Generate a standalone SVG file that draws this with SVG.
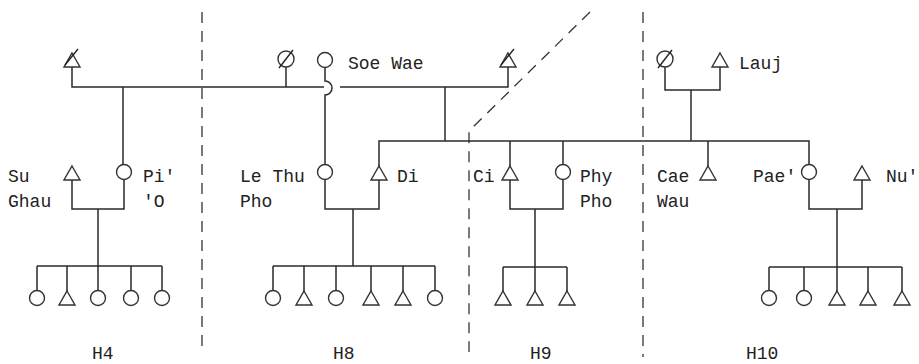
<svg xmlns="http://www.w3.org/2000/svg" xmlns:xlink="http://www.w3.org/1999/xlink" width="919" height="364" viewBox="0 0 919 364">
<style>
.ln{fill:none;stroke:#2a2a2a;stroke-width:1.5}
.dash{fill:none;stroke:#333;stroke-width:1.3;stroke-dasharray:11 8}
.sh{fill:#fff;stroke:#333;stroke-width:1.4}
.sl{fill:none;stroke:#222;stroke-width:1.4}
text{font-family:"Liberation Mono","DejaVu Sans Mono",monospace;font-size:18px;fill:#222}
</style>
<defs>
<path id="tri" class="sh" d="M0,-7 L8,7 L-8,7 Z"/>
<circle id="cir" class="sh" r="7.5"/>
<g id="dtri"><path class="sh" d="M0,-7 L8,7 L-8,7 Z"/><path class="sl" d="M-7,5 L6,-11"/></g>
<g id="dcir"><circle class="sh" r="8"/><path class="sl" d="M-7,9 L7,-9"/></g>
</defs>
<rect width="919" height="364" fill="#fff"/>
<g id="dividers">
<path class="dash" d="M202,12 V353"/>
<path class="dash" d="M590,12 L469,131 V352"/>
<path class="dash" d="M643,12 V357"/>
</g>
<g id="connectors">
<path class="ln" d="M72,67 V87 H324"/>
<path class="ln" d="M286,67 V87"/>
<path class="ln" d="M340,87 H508 V67"/>
<path class="ln" d="M325,67.5 V81 A7,7 0 0 1 325,95 V164.5"/>
<path class="ln" d="M123,87 V164.5"/>
<path class="ln" d="M72,180 V209 H124 V179.5"/>
<path class="ln" d="M98,209 V266"/>
<path class="ln" d="M37,266 H162"/>
<path class="ln" d="M37,266 V290.5 M67,266 V291 M98,266 V290.5 M131,266 V290.5 M162,266 V290.5"/>
<path class="ln" d="M445,87 V141"/>
<path class="ln" d="M379,166 V141 H809 V164.5"/>
<path class="ln" d="M510,141 V166 M563,141 V164.5 M708,141 V166"/>
<path class="ln" d="M665,67 V90 H720 V67"/>
<path class="ln" d="M691,90 V141"/>
<path class="ln" d="M325,179.5 V209 H379 V180"/>
<path class="ln" d="M353,209 V266"/>
<path class="ln" d="M273,266 H435"/>
<path class="ln" d="M273,266 V290.5 M304,266 V291 M336,266 V290.5 M371,266 V291 M403,266 V291 M435,266 V290.5"/>
<path class="ln" d="M510,180 V209 H563 V179.5"/>
<path class="ln" d="M535,209 V267"/>
<path class="ln" d="M503,267 H567"/>
<path class="ln" d="M503,267 V291 M535,267 V291 M567,267 V291"/>
<path class="ln" d="M809,179.5 V209 H862 V180"/>
<path class="ln" d="M837,209 V267"/>
<path class="ln" d="M769,267 H902"/>
<path class="ln" d="M769,267 V290.5 M804,267 V290.5 M837,267 V291 M868,267 V291 M902,267 V291"/>
</g>
<g id="n-top-m1"><use xlink:href="#dtri" x="72" y="60"/></g>
<g id="n-top-f1"><use xlink:href="#dcir" x="286" y="59"/></g>
<g id="n-soewae"><use xlink:href="#cir" x="325" y="60"/><text x="348" y="69">Soe Wae</text></g>
<g id="n-top-m2"><use xlink:href="#dtri" x="508" y="60"/></g>
<g id="n-top-f2"><use xlink:href="#dcir" x="665" y="59"/></g>
<g id="n-lauj"><use xlink:href="#tri" x="720" y="60"/><text x="739" y="69">Lauj</text></g>
<g id="n-sughau"><use xlink:href="#tri" x="72" y="173"/><text x="8" y="182">Su</text><text x="8" y="207">Ghau</text></g>
<g id="n-pio"><use xlink:href="#cir" x="124" y="172"/><text x="143" y="182">Pi'</text><text x="143" y="207">'O</text></g>
<g id="n-lethupho"><use xlink:href="#cir" x="325" y="172"/><text x="240" y="182">Le Thu</text><text x="240" y="207">Pho</text></g>
<g id="n-di"><use xlink:href="#tri" x="379" y="173"/><text x="397" y="182">Di</text></g>
<g id="n-ci"><use xlink:href="#tri" x="510" y="173"/><text x="473" y="182">Ci</text></g>
<g id="n-phypho"><use xlink:href="#cir" x="563" y="172"/><text x="580" y="182">Phy</text><text x="580" y="207">Pho</text></g>
<g id="n-caewau"><use xlink:href="#tri" x="708" y="173"/><text x="657" y="182">Cae</text><text x="657" y="207">Wau</text></g>
<g id="n-pae"><use xlink:href="#cir" x="809" y="172"/><text x="753" y="182">Pae'</text></g>
<g id="n-nu"><use xlink:href="#tri" x="862" y="173"/><text x="886" y="182">Nu'</text></g>
<g id="h4-children"><use xlink:href="#cir" x="37" y="298"/><use xlink:href="#tri" x="67" y="298"/><use xlink:href="#cir" x="98" y="298"/><use xlink:href="#cir" x="131" y="298"/><use xlink:href="#cir" x="162" y="298"/></g>
<g id="h8-children"><use xlink:href="#cir" x="273" y="298"/><use xlink:href="#tri" x="304" y="298"/><use xlink:href="#cir" x="336" y="298"/><use xlink:href="#tri" x="371" y="298"/><use xlink:href="#tri" x="403" y="298"/><use xlink:href="#cir" x="435" y="298"/></g>
<g id="h9-children"><use xlink:href="#tri" x="503" y="298"/><use xlink:href="#tri" x="535" y="298"/><use xlink:href="#tri" x="567" y="298"/></g>
<g id="h10-children"><use xlink:href="#cir" x="769" y="298"/><use xlink:href="#cir" x="804" y="298"/><use xlink:href="#tri" x="837" y="298"/><use xlink:href="#tri" x="868" y="298"/><use xlink:href="#tri" x="902" y="298"/></g>
<g id="labels"><text x="92" y="359">H4</text><text x="333" y="359">H8</text><text x="530" y="359">H9</text><text x="746" y="359">H10</text></g>
</svg>
